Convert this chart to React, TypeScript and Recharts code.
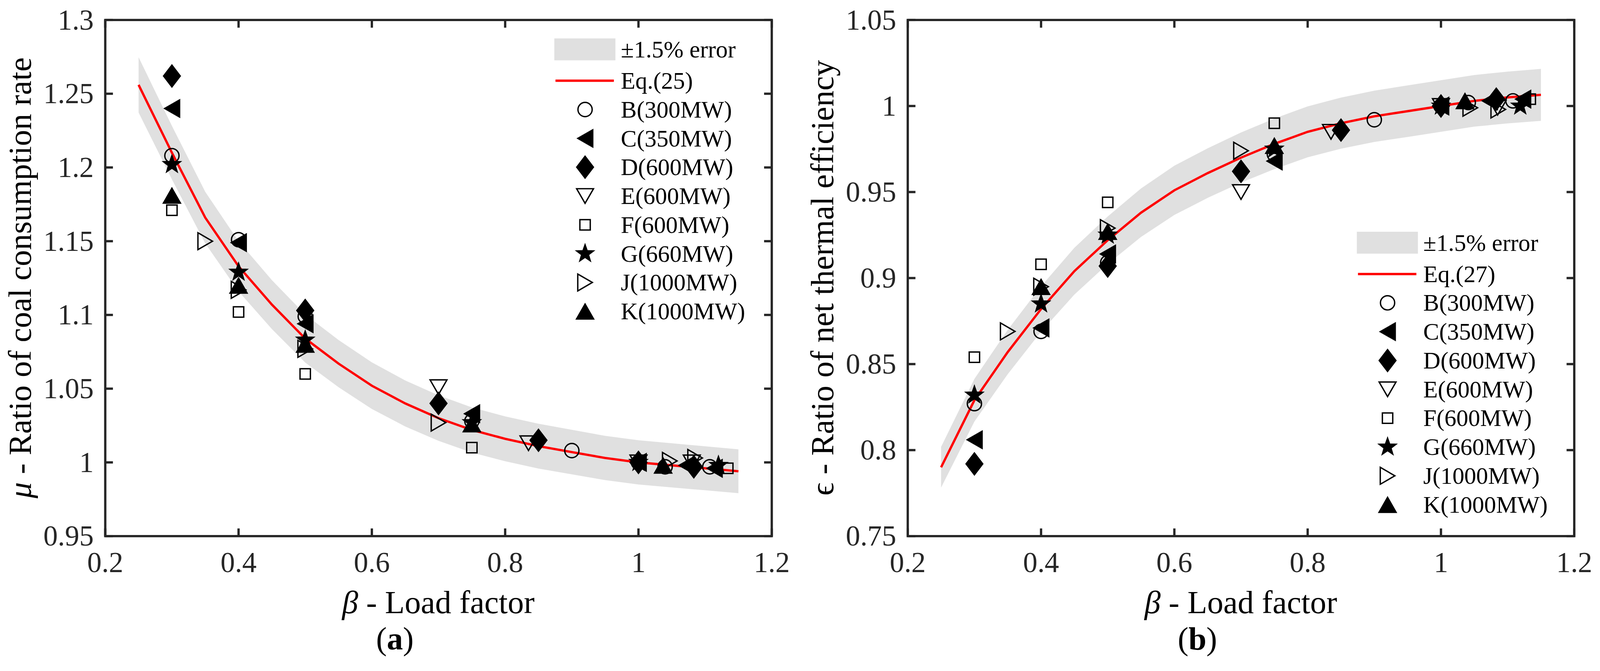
import React from 'react';
import { ComposedChart, XAxis, YAxis, Area, Line, Scatter, Legend, ReferenceArea } from 'recharts';

// load factor grid of the fitted curves
const betaGrid = [0.25, 0.3, 0.35, 0.4, 0.45, 0.5, 0.55, 0.6, 0.65, 0.7, 0.75, 0.8, 0.85, 0.9, 0.95, 1.0, 1.05, 1.1, 1.15];

// (a) Eq.(25) and its ±1.5% band
const eq25 = [1.256, 1.21, 1.166, 1.133, 1.107, 1.084, 1.067, 1.052, 1.04, 1.03, 1.022, 1.016, 1.011, 1.007, 1.003, 1.0, 0.998, 0.996, 0.994];
const eq25Hi = [1.2748, 1.2282, 1.1835, 1.15, 1.1236, 1.1003, 1.083, 1.0678, 1.0556, 1.0455, 1.0373, 1.0312, 1.0262, 1.0221, 1.018, 1.015, 1.013, 1.0109, 1.0089];
const eq25Lo = [1.2372, 1.1919, 1.1485, 1.116, 1.0904, 1.0677, 1.051, 1.0362, 1.0244, 1.0146, 1.0067, 1.0008, 0.9958, 0.9919, 0.988, 0.985, 0.983, 0.9811, 0.9791];

// (b) Eq.(27) and its ±1.5% band
const eq27 = [0.79, 0.829, 0.857, 0.882, 0.904, 0.922, 0.938, 0.951, 0.961, 0.97, 0.978, 0.985, 0.99, 0.994, 0.997, 1.0, 1.003, 1.005, 1.0065];
const eq27Hi = [0.8019, 0.8414, 0.8699, 0.8952, 0.9176, 0.9358, 0.9521, 0.9653, 0.9754, 0.9846, 0.9927, 0.9998, 1.0049, 1.0089, 1.012, 1.015, 1.018, 1.02, 1.0216];
const eq27Lo = [0.7782, 0.8166, 0.8441, 0.8688, 0.8904, 0.9082, 0.9239, 0.9367, 0.9466, 0.9555, 0.9633, 0.9702, 0.9752, 0.9791, 0.982, 0.985, 0.988, 0.9899, 0.9914];

const unitNames = ['B(300MW)', 'C(350MW)', 'D(600MW)', 'E(600MW)', 'F(600MW)', 'G(660MW)', 'J(1000MW)', 'K(1000MW)'];
const unitMarkers = ['circle', 'triLeft', 'diamond', 'triDown', 'square', 'star', 'triRight', 'triUp'];

// measured points [beta, mu]
const muB = [[0.3, 1.208], [0.4, 1.151], [0.5, 1.099], [0.75, 1.028], [0.9, 1.008], [1.0, 1.0], [1.04, 0.997], [1.107, 0.997]];
const muC = [[0.3, 1.24], [0.4, 1.149], [0.5, 1.094], [0.75, 1.033], [1.0, 1.0], [1.072, 0.998], [1.114, 0.996]];
const muD = [[0.3, 1.262], [0.5, 1.103], [0.7, 1.04], [0.85, 1.015], [1.0, 1.0], [1.083, 0.997]];
const muE = [[0.7, 1.051], [0.835, 1.013], [1.0, 1.0], [1.08, 1.0]];
const muF = [[0.3, 1.171], [0.4, 1.102], [0.5, 1.06], [0.75, 1.01], [1.134, 0.996]];
const muG = [[0.3, 1.202], [0.4, 1.129], [0.5, 1.083], [0.75, 1.027], [1.0, 1.0], [1.12, 0.998]];
const muJ = [[0.35, 1.15], [0.4, 1.117], [0.5, 1.077], [0.7, 1.027], [1.047, 1.001], [1.085, 1.003]];
const muK = [[0.3, 1.181], [0.4, 1.12], [0.5, 1.08], [0.75, 1.026], [1.037, 0.998]];

// measured points [beta, epsilon]
const epsB = [[0.3, 0.827], [0.4, 0.869], [0.5, 0.909], [0.75, 0.972], [0.9, 0.992], [1.0, 1.0], [1.041, 1.002], [1.108, 1.003]];
const epsC = [[0.3, 0.806], [0.4, 0.871], [0.5, 0.914], [0.75, 0.968], [1.0, 1.0], [1.073, 1.003], [1.123, 1.004]];
const epsD = [[0.3, 0.792], [0.5, 0.907], [0.7, 0.962], [0.85, 0.986], [1.0, 1.0], [1.083, 1.004]];
const epsE = [[0.7, 0.95], [0.835, 0.985], [1.0, 1.0], [1.085, 0.999]];
const epsF = [[0.3, 0.854], [0.4, 0.908], [0.5, 0.944], [0.75, 0.99], [1.134, 1.004]];
const epsG = [[0.3, 0.832], [0.4, 0.885], [0.5, 0.925], [0.75, 0.975], [1.0, 1.0], [1.119, 1.0]];
const epsJ = [[0.35, 0.869], [0.4, 0.895], [0.5, 0.929], [0.7, 0.974], [1.044, 0.999], [1.086, 0.998]];
const epsK = [[0.4, 0.895], [0.5, 0.927], [0.75, 0.977], [1.036, 1.003]];

const xTicks = [0.2, 0.4, 0.6, 0.8, 1, 1.2];
const muTicks = [0.95, 1, 1.05, 1.1, 1.15, 1.2, 1.25, 1.3];
const epsTicks = [0.75, 0.8, 0.85, 0.9, 0.95, 1, 1.05];

const FONT = "'Liberation Serif', 'Times New Roman', Times, serif";
const AX = '#262626';
const BAND = '#e0e0e0';
const W = 4165;
const H = 1717;
// the photo seems to come from a viewport ~4096 px wide, so shrink to fit
const FIT = 4096 / 4165;
const PLOT_L = 274;
const PLOT_R = 2009;
const PLOT_T = 52;
const PLOT_B = 1395;
const TICK = 20;

const txt = (size: number, extra: React.CSSProperties = {}): React.CSSProperties => ({
  fontFamily: FONT,
  fontSize: size,
  ...extra,
});

const Marker = ({ kind, cx, cy }: { kind: string; cx: number; cy: number }) => {
  const open = { fill: 'none', stroke: '#000', strokeWidth: 3.5 };
  const solid = { fill: '#000', stroke: '#000', strokeWidth: 1.5 };
  switch (kind) {
    case 'circle':
      return <circle cx={cx} cy={cy} r={18.5} {...open} />;
    case 'square':
      return <rect x={cx - 13.5} y={cy - 13.5} width={27} height={27} {...open} />;
    case 'diamond':
      return <polygon points={`${cx},${cy - 30} ${cx + 23},${cy} ${cx},${cy + 30} ${cx - 23},${cy}`} {...solid} />;
    case 'triLeft':
      return <polygon points={`${cx - 21},${cy} ${cx + 21},${cy - 24} ${cx + 21},${cy + 24}`} {...solid} />;
    case 'triUp':
      return <polygon points={`${cx},${cy - 21} ${cx + 24},${cy + 21} ${cx - 24},${cy + 21}`} {...solid} />;
    case 'triDown':
      return <polygon points={`${cx - 22},${cy - 19} ${cx + 22},${cy - 19} ${cx},${cy + 19}`} {...open} />;
    case 'triRight':
      return <polygon points={`${cx + 19},${cy} ${cx - 19},${cy - 22} ${cx - 19},${cy + 22}`} {...open} />;
    case 'star': {
      const pts: string[] = [];
      for (let k = 0; k < 10; k++) {
        const r = k % 2 === 0 ? 26 : 10.5;
        const a = -Math.PI / 2 + (k * Math.PI) / 5;
        pts.push(`${cx + r * Math.cos(a)},${cy + r * Math.sin(a)}`);
      }
      return <polygon points={pts.join(' ')} {...solid} />;
    }
    default:
      return null;
  }
};

const XTick = (props: any) => {
  const { x, payload } = props;
  return (
    <g>
      <line x1={x} x2={x} y1={PLOT_B} y2={PLOT_B - TICK} stroke={AX} strokeWidth={6} />
      <line x1={x} x2={x} y1={PLOT_T} y2={PLOT_T + TICK} stroke={AX} strokeWidth={6} />
      <text x={x} y={PLOT_B + 94} textAnchor="middle" fill={AX} style={txt(75)}>
        {String(payload.value)}
      </text>
    </g>
  );
};

const YTick = (props: any) => {
  const { y, payload } = props;
  return (
    <g>
      <line x1={PLOT_L} x2={PLOT_L + TICK} y1={y} y2={y} stroke={AX} strokeWidth={6} />
      <line x1={PLOT_R} x2={PLOT_R - TICK} y1={y} y2={y} stroke={AX} strokeWidth={6} />
      <text x={PLOT_L - 30} y={y + 25} textAnchor="end" fill={AX} style={txt(75)}>
        {String(payload.value)}
      </text>
    </g>
  );
};

const LegendBox = ({ eqName }: { eqName: string }) => (
  <svg width={620} height={780} style={{ display: 'block', overflow: 'visible' }}>
    <rect x={23} y={15} width={159} height={57} fill={BAND} />
    <text x={196} y={44} dominantBaseline="central" style={txt(62)}>±1.5% error</text>
    <line x1={26} x2={178} y1={125} y2={125} stroke="#ff0000" strokeWidth={6} />
    <text x={196} y={125} dominantBaseline="central" style={txt(62)}>{eqName}</text>
    {unitNames.map((n, i) => (
      <g key={n}>
        <Marker kind={unitMarkers[i]} cx={103} cy={200 + 75 * i} />
        <text x={196} y={200 + 75 * i} dominantBaseline="central" style={txt(62)}>{n}</text>
      </g>
    ))}
  </svg>
);

type PanelProps = {
  width: number;
  curve: number[];
  hi: number[];
  lo: number[];
  points: number[][][];
  yTicks: number[];
  eqName: string;
  ySymbol: string;
  ySymbolItalic: boolean;
  yText: string;
  letter: string;
  legendTop: number;
};

const Panel = ({ width, curve, hi, lo, points, yTicks, eqName, ySymbol, ySymbolItalic, yText, letter, legendTop }: PanelProps) => {
  const table = betaGrid.map((x, i) => ({ x, eq: curve[i], band: [lo[i], hi[i]] }));
  const yMin = yTicks[0];
  const yMax = yTicks[yTicks.length - 1];

  const xTitle = () => (
    <g fill="#000">
      <text x={1141} y={1595} textAnchor="middle" style={txt(84)}>
        <tspan style={{ fontStyle: 'italic' }}>β</tspan>
        <tspan>{'  - Load factor'}</tspan>
      </text>
      <text x={1028} y={1690} textAnchor="middle" style={txt(84)}>
        <tspan>(</tspan>
        <tspan style={{ fontWeight: 'bold' }}>{letter}</tspan>
        <tspan>)</tspan>
      </text>
    </g>
  );

  const yTitle = () => (
    <text x={80} y={723} textAnchor="middle" transform="rotate(-90 80 723)" fill="#000" style={txt(84)}>
      <tspan style={{ fontStyle: ySymbolItalic ? 'italic' : 'normal' }}>{ySymbol}</tspan>
      <tspan>{yText}</tspan>
    </text>
  );

  return (
    <ComposedChart
      width={width}
      height={H}
      data={table}
      margin={{ top: PLOT_T, right: width - PLOT_R, bottom: H - PLOT_B - 100, left: 0 }}
    >
      <XAxis
        type="number"
        dataKey="x"
        domain={[0.2, 1.2]}
        ticks={xTicks}
        interval={0}
        allowDataOverflow
        height={100}
        axisLine={false}
        tickLine={false}
        tick={XTick}
        label={xTitle}
      />
      <YAxis
        type="number"
        domain={[yMin, yMax]}
        ticks={yTicks}
        interval={0}
        allowDataOverflow
        width={PLOT_L}
        axisLine={false}
        tickLine={false}
        tick={YTick}
        label={yTitle}
      />
      <Area
        type="linear"
        dataKey="band"
        name="±1.5% error"
        stroke="none"
        fill={BAND}
        fillOpacity={1}
        activeDot={false}
        isAnimationActive={false}
      />
      <Line
        type="linear"
        dataKey="eq"
        name={eqName}
        stroke="#ff0000"
        strokeWidth={6}
        dot={false}
        activeDot={false}
        isAnimationActive={false}
      />
      {points.map((pts, s) => (
        <Scatter
          key={unitNames[s]}
          name={unitNames[s]}
          data={pts.map(([x, y]) => ({ x, y }))}
          dataKey="y"
          shape={(p: any) => <Marker kind={unitMarkers[s]} cx={p.cx} cy={p.cy} />}
          isAnimationActive={false}
        />
      ))}
      <ReferenceArea x1={0.2} x2={1.2} y1={yMin} y2={yMax} fill="none" stroke={AX} strokeWidth={6} />
      <Legend
        layout="horizontal"
        verticalAlign="middle"
        align="center"
        wrapperStyle={{ position: 'absolute', left: 1420, top: legendTop, width: 620, height: 780 }}
        content={() => <LegendBox eqName={eqName} />}
      />
    </ComposedChart>
  );
};

export default function App() {
  return (
    <div
      style={{
        position: 'absolute',
        left: 0,
        top: 0,
        width: W,
        height: H,
        background: '#fff',
        transform: `scale(${FIT})`,
        transformOrigin: '0 0',
      }}
    >
      <div style={{ position: 'absolute', left: 0, top: 0 }}>
        <Panel
          width={2089}
          curve={eq25}
          hi={eq25Hi}
          lo={eq25Lo}
          points={[muB, muC, muD, muE, muF, muG, muJ, muK]}
          yTicks={muTicks}
          eqName="Eq.(25)"
          ySymbol="μ"
          ySymbolItalic
          yText="  - Ratio of coal consumption rate"
          letter="a"
          legendTop={85}
        />
      </div>
      <div style={{ position: 'absolute', left: 2089, top: 0 }}>
        <Panel
          width={2076}
          curve={eq27}
          hi={eq27Hi}
          lo={eq27Lo}
          points={[epsB, epsC, epsD, epsE, epsF, epsG, epsJ, epsK]}
          yTicks={epsTicks}
          eqName="Eq.(27)"
          ySymbol="ϵ"
          ySymbolItalic={false}
          yText=" - Ratio of net thermal efficiency"
          letter="b"
          legendTop={588}
        />
      </div>
    </div>
  );
}
